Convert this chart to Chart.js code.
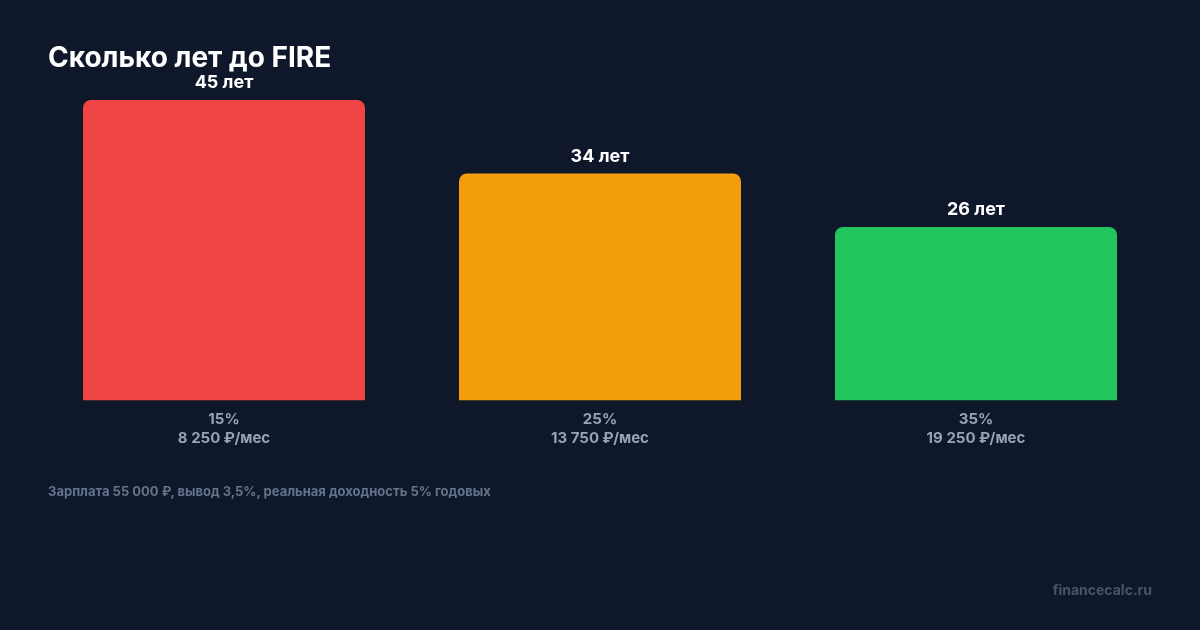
<!DOCTYPE html>
<html lang="ru">
<head>
<meta charset="utf-8">
<script src="https://cdn.jsdelivr.net/npm/chart.js@4"></script>
<style>
  html, body { margin: 0; padding: 0; background: #0f172a; }
  #wrap { position: relative; width: 1200px; height: 630px; overflow: hidden; font-family: Inter, "Noto Sans", sans-serif; }
  #chart { position: absolute; left: 0; top: 0; }
  .title { position: absolute; left: 48px; top: 39px; color: #fff; font-size: 28px; font-weight: 700; line-height: 36px; }
  .note { position: absolute; left: 48px; top: 482px; color: #64748b; font-size: 13px; font-weight: 700; line-height: 18px; }
  .brand { position: absolute; right: 48px; top: 581px; color: #475569; font-size: 14px; font-weight: 700; line-height: 18px; }
</style>
</head>
<body>
<div id="wrap">
  <canvas id="chart" width="1200" height="630"></canvas>
  <div class="title">Сколько лет до FIRE</div>
  <div class="note">Зарплата 55 000 ₽, вывод 3,5%, реальная доходность 5% годовых</div>
  <div class="brand">financecalc.ru</div>
</div>
<script>
// данные
const savingRates = ['15%', '25%', '35%'];
const monthly = ['8 250 ₽/мес', '13 750 ₽/мес', '19 250 ₽/мес'];
const yearsToFire = [45, 34, 26];
const barColors = ['#ef4444', '#f59e0b', '#22c55e'];

const labels = savingRates.map((r, i) => [r, monthly[i]]);

// подписи над столбцами
const valueLabels = {
  id: 'valueLabels',
  afterDatasetsDraw(chart) {
    const ctx = chart.ctx;
    const meta = chart.getDatasetMeta(0);
    ctx.save();
    ctx.fillStyle = '#ffffff';
    ctx.font = '700 18px Inter, sans-serif';
    ctx.textAlign = 'center';
    ctx.textBaseline = 'middle';
    meta.data.forEach((bar, i) => {
      ctx.fillText(yearsToFire[i] + ' лет', bar.x, bar.y - 17);
    });
    ctx.restore();
  }
};

new Chart(document.getElementById('chart').getContext('2d'), {
  type: 'bar',
  data: {
    labels: labels,
    datasets: [{
      data: yearsToFire,
      backgroundColor: barColors,
      borderRadius: 8,
      borderSkipped: 'bottom',
      barPercentage: 1,
      categoryPercentage: 0.75
    }]
  },
  options: {
    responsive: false,
    animation: false,
    devicePixelRatio: 1,
    layout: { padding: { left: 36, right: 36, top: 100, bottom: 172 } },
    plugins: { legend: { display: false }, tooltip: { enabled: false } },
    scales: {
      x: {
        grid: { display: false, drawTicks: false },
        border: { display: false },
        ticks: {
          color: '#94a3b8',
          padding: 10,
          font: { family: 'Inter', size: 15, weight: '700', lineHeight: 1.25 }
        }
      },
      y: { display: false, min: 0, max: 45 }
    }
  },
  plugins: [valueLabels]
});
</script>
</body>
</html>
